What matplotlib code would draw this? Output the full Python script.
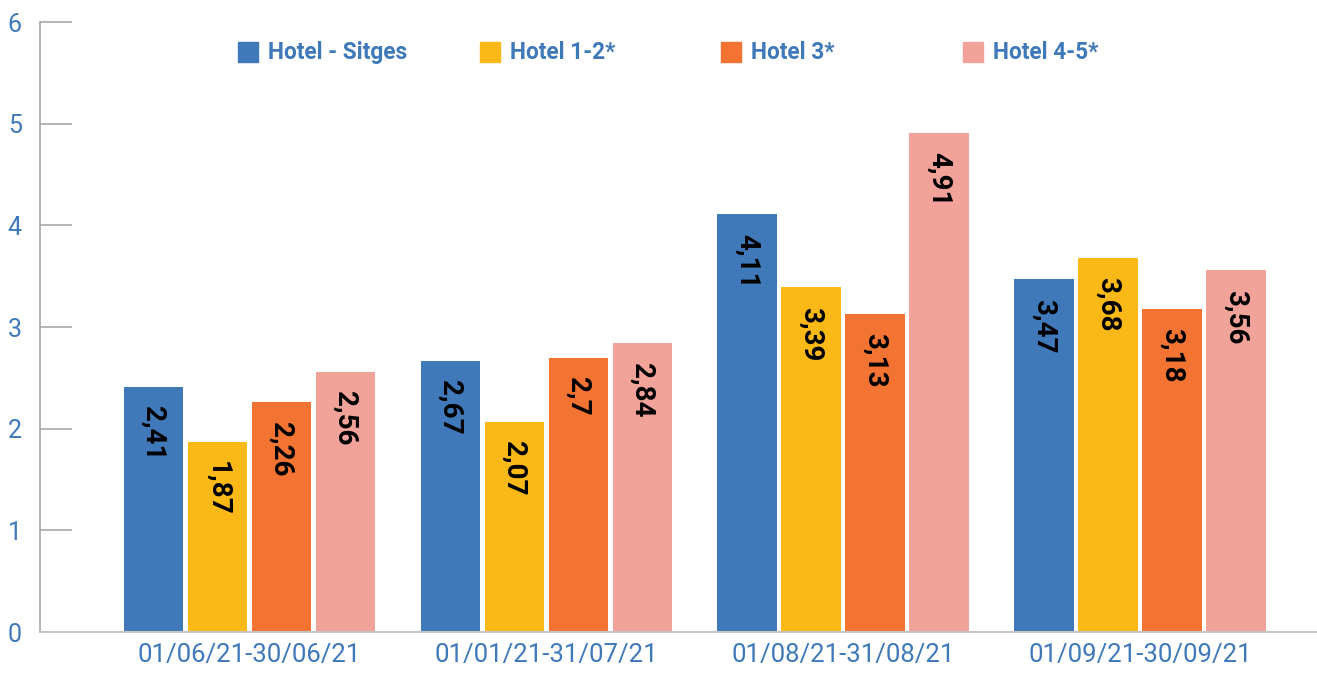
import numpy as np
import matplotlib.pyplot as plt
from matplotlib.patches import Rectangle

plt.rcParams['font.family'] = ['Roboto', 'DejaVu Sans']

periods = ['01/06/21-30/06/21', '01/01/21-31/07/21', '01/08/21-31/08/21', '01/09/21-30/09/21']
series = ['Hotel - Sitges', 'Hotel 1-2*', 'Hotel 3*', 'Hotel 4-5*']
sitges = [2.41, 2.67, 4.11, 3.47]
hotel_12 = [1.87, 2.07, 3.39, 3.68]
hotel_3 = [2.26, 2.70, 3.13, 3.18]
hotel_45 = [2.56, 2.84, 4.91, 3.56]
colors = ['#3F79B9', '#FBB918', '#F37333', '#F1A39A']

blue_txt = '#3F79B9'
axis_grey = '#A0A0A0'

fig = plt.figure(figsize=(13.17, 6.73), dpi=100)
ax = fig.add_axes([0.0304, 0.0609, 0.9696, 0.9063])

x = np.arange(len(periods))
width = 0.199
step = 0.2155
all_vals = [sitges, hotel_12, hotel_3, hotel_45]

for i, vals in enumerate(all_vals):
    pos = x + (i - 1.5) * step
    ax.bar(pos, vals, width=width, color=colors[i], zorder=2)
    for px, v in zip(pos, vals):
        ax.annotate(f'{v:g}'.replace('.', ','), (px, v), xytext=(0, -14),
                    textcoords='offset points', rotation=270,
                    ha='center', va='top', fontsize=20, fontweight='bold',
                    color='black')

ax.set_xlim(-0.704, 3.596)
ax.set_ylim(0, 6)
ax.set_yticks(range(7))
ax.set_xticks(x)
ax.set_xticklabels(periods)

ax.tick_params(axis='y', direction='in', length=23, width=1.1, color=axis_grey,
               labelsize=18, labelcolor=blue_txt, pad=13)
ax.tick_params(axis='x', length=0, labelsize=18.5, labelcolor=blue_txt, pad=8)

for s in ['top', 'right']:
    ax.spines[s].set_visible(False)
ax.spines['left'].set_color(axis_grey)
ax.spines['bottom'].set_color('#C4C4C4')
ax.spines['left'].set_linewidth(1.1)
ax.spines['bottom'].set_linewidth(1.5)

# legend along the top, fixed spacing
for i, name in enumerate(series):
    lx = 0.1807 + i * 0.1835
    fig.patches.append(Rectangle((lx, 0.908), 0.0152, 0.0297, transform=fig.transFigure,
                                 color=colors[i]))
    fig.text(lx + 0.0228, 0.922, name, fontsize=16.3, fontweight='bold',
             color=blue_txt, va='center', ha='left')

fig.savefig('out.png', dpi=100)
